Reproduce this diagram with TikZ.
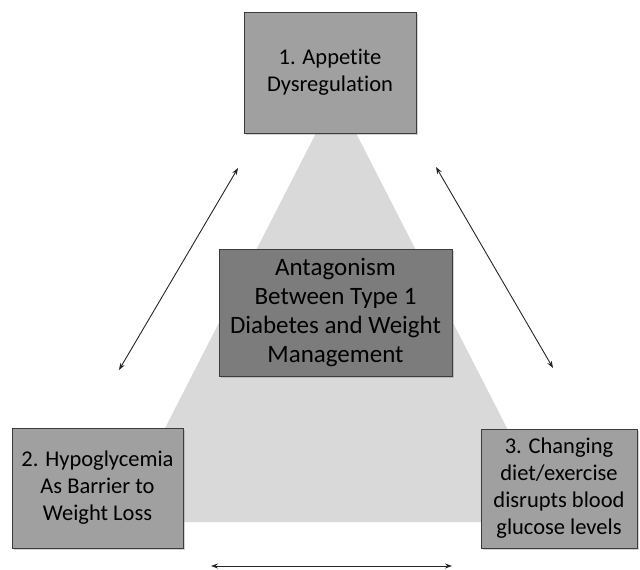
\documentclass[tikz,border=0pt]{standalone}
\usepackage{fontspec}
\setmainfont{Carlito}[Ligatures={NoCommon,NoContextual}]
\usetikzlibrary{arrows.meta,shadows}

\definecolor{boxgray}{HTML}{A0A0A0}
\definecolor{coregray}{HTML}{7C7C7C}
\definecolor{trigray}{HTML}{D9D9D9}
\definecolor{edgegray}{HTML}{3C3C3C}

\tikzset{
  factor/.style={draw=edgegray, line width=1pt, fill=boxgray, align=center,
    inner sep=0pt, font=\fontsize{22.5}{27}\selectfont,
    drop shadow={shadow xshift=1.5pt, shadow yshift=-1.5pt, opacity=0.35}},
  link/.style={{Stealth[length=7pt,width=5pt]}-{Stealth[length=7pt,width=5pt]}, line width=0.9pt, black!85}
}

\begin{document}
\begin{tikzpicture}[x=1pt, y=-1pt]
  \useasboundingbox (0,0) rectangle (640,570);

  % the shared triangle behind everything
  \coordinate (apex) at (336,94);
  \coordinate (bl) at (117,522);
  \coordinate (br) at (555,522);
  \fill[trigray] (apex) -- (bl) -- (br) -- cycle;

  % three factors and the core
  \node[factor, minimum width=172pt, minimum height=121pt] (appetite) at (330,72.5)
      {1. Appetite\\Dysregulation};
  \node[factor, minimum width=171pt, minimum height=120pt] (hypo) at (97.5,488)
      {2. Hypoglycemia\\As Barrier to\\Weight Loss};
  \node[factor, minimum width=156pt, minimum height=119pt] (change) at (559,488.5)
      {3. Changing\\diet/exercise\\disrupts blood\\glucose levels};
  \node[factor, fill=coregray, font=\fontsize{25}{29}\selectfont,
        minimum width=233pt, minimum height=127pt] (core) at (335.5,312.5)
      {Antagonism\\Between Type 1\\Diabetes and Weight\\Management};

  % two-headed arrows between the corners
  \coordinate (l1) at (238,168);
  \coordinate (l2) at (119,370);
  \coordinate (r1) at (436,167);
  \coordinate (r2) at (553,368);
  \coordinate (b1) at (211,566);
  \coordinate (b2) at (452,566);
  \draw[link] (l1) -- (l2);
  \draw[link] (r1) -- (r2);
  \draw[link] (b1) -- (b2);
\end{tikzpicture}
\end{document}
